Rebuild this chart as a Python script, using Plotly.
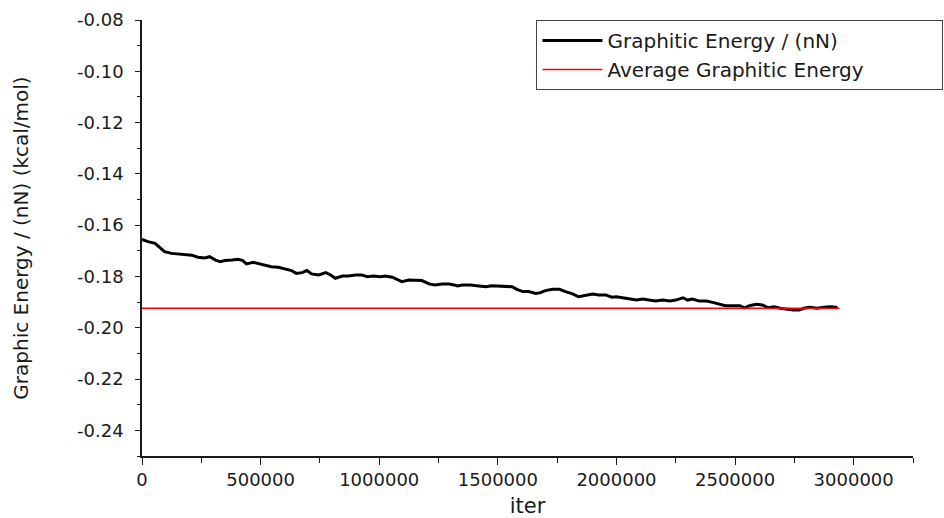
import plotly.graph_objects as go

# ---- data ----
iter_values = [
    0, 25000, 55000, 75000, 95000, 125000, 155000, 180000, 210000, 235000,
    265000, 285000, 310000, 330000, 350000, 380000, 405000, 425000, 440000, 470000,
    490000, 520000, 545000, 575000, 605000, 630000, 650000, 675000, 695000, 715000,
    745000, 775000, 795000, 815000, 845000, 870000, 900000, 925000, 950000, 975000,
    1005000, 1025000, 1055000, 1075000, 1095000, 1125000, 1150000, 1180000, 1210000, 1235000,
    1265000, 1295000, 1315000, 1330000, 1350000, 1385000, 1420000, 1450000, 1475000, 1505000,
    1535000, 1560000, 1580000, 1605000, 1630000, 1660000, 1680000, 1700000, 1730000, 1760000,
    1785000, 1815000, 1840000, 1870000, 1900000, 1925000, 1955000, 1980000, 2000000, 2025000,
    2055000, 2085000, 2110000, 2140000, 2165000, 2195000, 2225000, 2250000, 2280000, 2300000,
    2320000, 2350000, 2380000, 2405000, 2435000, 2460000, 2490000, 2520000, 2540000, 2560000,
    2590000, 2615000, 2640000, 2665000, 2690000, 2720000, 2745000, 2770000, 2790000, 2815000,
    2845000, 2875000, 2900000, 2925000, 2930000,
]
graphitic_energy = [
    -0.1655, -0.1664, -0.1671, -0.1686, -0.1703, -0.1710, -0.1712, -0.1716, -0.1717, -0.1725,
    -0.1728, -0.1723, -0.1736, -0.1742, -0.1738, -0.1736, -0.1733, -0.1738, -0.1751, -0.1745,
    -0.1749, -0.1755, -0.1762, -0.1764, -0.1772, -0.1777, -0.1788, -0.1785, -0.1777, -0.1790,
    -0.1794, -0.1785, -0.1794, -0.1807, -0.1798, -0.1798, -0.1794, -0.1794, -0.1801, -0.1798,
    -0.1801, -0.1798, -0.1803, -0.1811, -0.1820, -0.1814, -0.1816, -0.1816, -0.1829, -0.1833,
    -0.1829, -0.1829, -0.1833, -0.1837, -0.1833, -0.1833, -0.1837, -0.1840, -0.1836, -0.1837,
    -0.1840, -0.1840, -0.1850, -0.1859, -0.1859, -0.1866, -0.1863, -0.1855, -0.1850, -0.1850,
    -0.1859, -0.1868, -0.1879, -0.1872, -0.1868, -0.1872, -0.1872, -0.1881, -0.1879, -0.1883,
    -0.1888, -0.1892, -0.1888, -0.1892, -0.1896, -0.1892, -0.1896, -0.1892, -0.1883, -0.1892,
    -0.1888, -0.1896, -0.1896, -0.1901, -0.1908, -0.1914, -0.1914, -0.1914, -0.1922, -0.1914,
    -0.1908, -0.1911, -0.1922, -0.1918, -0.1924, -0.1928, -0.1931, -0.1931, -0.1924, -0.1920,
    -0.1924, -0.1920, -0.1918, -0.1920, -0.1924,
]
average_iter = [0, 2940000]
average_energy = [-0.1924, -0.1924]

y_tick_vals = [-0.24, -0.22, -0.20, -0.18, -0.16, -0.14, -0.12, -0.10, -0.08]
y_tick_text = ["-0.24", "-0.22", "-0.20", "-0.18", "-0.16", "-0.14", "-0.12", "-0.10", "-0.08"]
x_tick_vals = [0, 500000, 1000000, 1500000, 2000000, 2500000, 3000000]
x_tick_text = ["0", "500000", "1000000", "1500000", "2000000", "2500000", "3000000"]

FONT = "DejaVu Sans"
INK = "#1a1a1a"

fig = go.Figure()
fig.add_trace(go.Scatter(
    x=iter_values, y=graphitic_energy, mode="lines",
    name="Graphitic Energy / (nN)",
    line=dict(color="black", width=3.0),
))
fig.add_trace(go.Scatter(
    x=average_iter, y=average_energy, mode="lines",
    name="Average Graphitic Energy",
    line=dict(color="#ff0000", width=1.3),
))

fig.update_layout(
    width=944, height=518,
    margin=dict(l=142, r=31, t=20, b=62, autoexpand=False),
    paper_bgcolor="white", plot_bgcolor="white",
    font=dict(family=FONT, color=INK, size=18),
    showlegend=True,
    legend=dict(
        orientation="h",
        x=1.0395, xanchor="right", y=1.0, yanchor="top",
        bordercolor="#444444", borderwidth=1, bgcolor="white",
        font=dict(family=FONT, size=20, color=INK),
        tracegroupgap=0, itemwidth=60,
        entrywidth=330, entrywidthmode="pixels",
    ),
)

fig.update_xaxes(
    range=[0, 3250000],
    tickvals=x_tick_vals, ticktext=x_tick_text,
    showgrid=False, zeroline=False,
    showline=True, linecolor=INK, linewidth=1.6,
    ticks="outside", ticklen=7, tickwidth=1.4, tickcolor=INK,
    minor=dict(dtick=250000, tick0=0, ticks="outside", ticklen=5, tickwidth=1.2, tickcolor=INK, showgrid=False),
    tickfont=dict(family=FONT, size=18, color=INK),
    title=dict(text="iter", font=dict(family=FONT, size=21, color=INK), standoff=19),
)
fig.update_yaxes(
    range=[-0.25, -0.08],
    tickvals=y_tick_vals, ticktext=y_tick_text,
    showgrid=False, zeroline=False,
    showline=True, linecolor=INK, linewidth=1.6,
    ticks="outside", ticklen=5, tickwidth=1.4, tickcolor=INK,
    minor=dict(dtick=0.01, tick0=-0.25, ticks="outside", ticklen=3, tickwidth=1.2, tickcolor=INK, showgrid=False),
    tickfont=dict(family=FONT, size=18, color=INK),
    ticklabelstandoff=8,
    title=dict(text="Graphic Energy / (nN) (kcal/mol)", font=dict(family=FONT, size=20, color=INK), standoff=43),
)

fig.write_html("out.html")
